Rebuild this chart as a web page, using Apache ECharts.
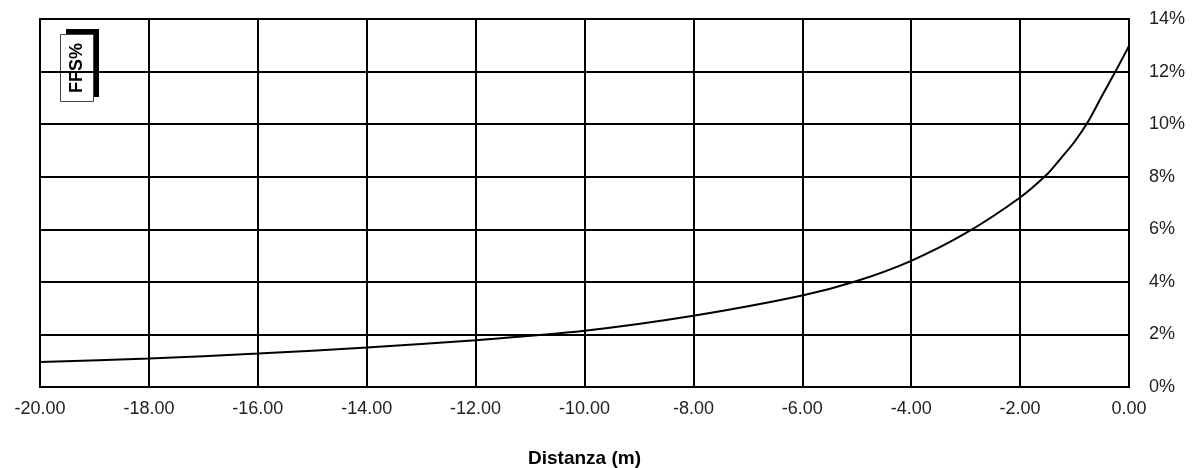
<!DOCTYPE html>
<html>
<head>
<meta charset="utf-8">
<script src="https://cdn.jsdelivr.net/npm/echarts@6/dist/echarts.min.js"></script>
<style>
html,body{margin:0;padding:0;background:#fff;}
#chart{width:1200px;height:468px;}
</style>
</head>
<body>
<div id="chart"></div>
<script>
const distances = [-20, -18, -16, -14, -12, -10, -8, -6, -5, -4, -3, -2, -1.5, -1.25, -1, -0.75, -0.5, -0.25, 0];
const ffsValues = [0.95, 1.08, 1.27, 1.50, 1.78, 2.14, 2.71, 3.48, 4.03, 4.8, 5.85, 7.21, 8.1, 8.7, 9.33, 10.1, 11.06, 12.0, 12.97];
const xAxisTitle = 'Distanza (m)';
const yAxisTitle = 'FFS%';

const chart = echarts.init(document.getElementById('chart'));
const font = '"Liberation Sans", Arial, sans-serif';
chart.setOption({
  animation: false,
  backgroundColor: '#fff',
  grid: {left: 40, right: 71, top: 19, bottom: 81, containLabel: false, outerBoundsMode: 'none', show: true, borderColor: '#000', borderWidth: 2, backgroundColor: 'transparent'},
  xAxis: {
    type: 'value', min: -20, max: 0, interval: 2,
    name: xAxisTitle, nameLocation: 'middle', nameGap: 62,
    nameTextStyle: {fontFamily: font, fontSize: 19, fontWeight: 'bold', color: '#000'},
    axisLine: {show: true, lineStyle: {color: '#000', width: 2}},
    axisTick: {show: false},
    axisLabel: {fontFamily: font, fontSize: 18, color: '#222', margin: 13, formatter: v => v.toFixed(2)},
    splitLine: {show: true, lineStyle: {color: '#000', width: 2}}
  },
  yAxis: {
    type: 'value', position: 'right', min: 0, max: 14, interval: 2,
    axisLine: {show: true, lineStyle: {color: '#000', width: 2}},
    axisTick: {show: false},
    axisLabel: {fontFamily: font, fontSize: 18, color: '#222', margin: 20, formatter: v => v + '%'},
    splitLine: {show: true, lineStyle: {color: '#000', width: 2}}
  },
  series: [{
    type: 'line', smooth: 0.25, symbol: 'none',
    lineStyle: {color: '#000', width: 2},
    data: distances.map((d, i) => [d, ffsValues[i]])
  }],
  graphic: [
    {type: 'rect', left: 66, top: 29, shape: {width: 33, height: 68}, style: {fill: '#000'}},
    {type: 'rect', left: 60, top: 34, shape: {width: 33, height: 67}, style: {fill: '#fff', stroke: '#444', lineWidth: 1}},
    {type: 'text', x: 77, y: 68, rotation: Math.PI / 2, style: {text: yAxisTitle, fontFamily: font, fontSize: 18, fontWeight: 'bold', fill: '#000', align: 'center', verticalAlign: 'middle'}}
  ]
});
</script>
</body>
</html>
